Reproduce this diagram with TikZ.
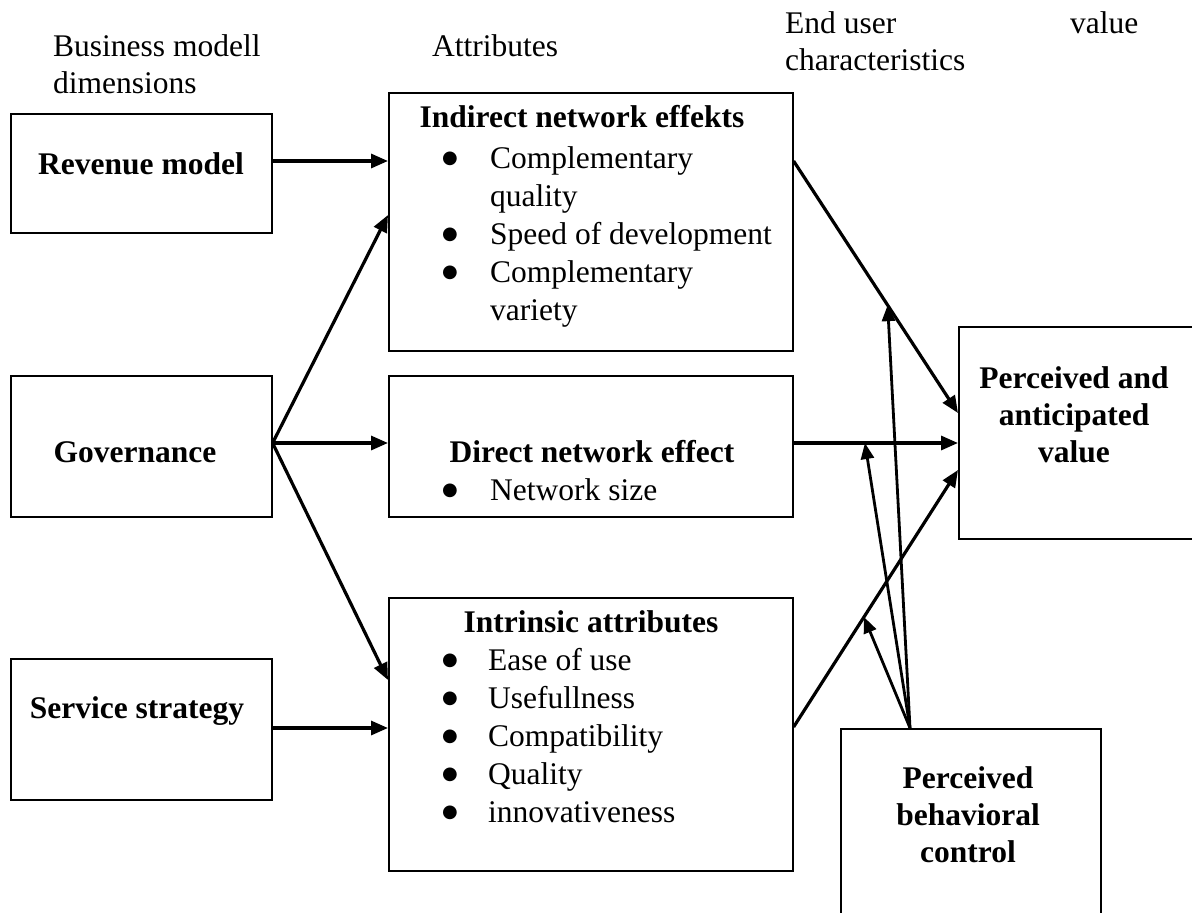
\documentclass[tikz,border=0pt]{standalone}
\usepackage{fontspec}
\setmainfont{Liberation Serif}
\newfontfamily\symfont{DejaVu Sans}
\usetikzlibrary{arrows.meta,calc}
\newcommand{\bigbul}{\raisebox{4.5pt}{\symfont\fontsize{18}{18}\selectfont ●}}
\begin{document}
\begin{tikzpicture}[x=1pt,y=-1pt,
  box/.style={draw,line width=1.6pt,anchor=north west,inner sep=0pt},
  lbl/.style={anchor=base west,inner sep=0pt,font=\fontsize{31.5}{37}\selectfont},
  ttl/.style={anchor=base,inner sep=0pt,font=\fontsize{31.5}{37}\selectfont\bfseries},
  lst/.style={anchor=base west,inner sep=0pt,font=\fontsize{31.5}{38}\selectfont},
  arr/.style={line width=3.2pt,-{Triangle[length=17pt,width=14pt]}},
  arrb/.style={line width=2.8pt,-{Triangle[length=16pt,width=13pt]}}]
\useasboundingbox (0,0) rectangle (1192,913);
\fill[white] (0,0) rectangle (1192,913);

% headers
\node[lbl] (h1) at (53,56) {Business modell};
\node[lbl] (h1b) at (53,93) {dimensions};
\node[lbl] (h2) at (432,56) {Attributes};
\node[lbl] (h3) at (785,33) {End user};
\node[lbl] (h3b) at (785,70) {characteristics};
\node[lbl] (h4) at (1070,33) {value};

% boxes
\node[box,minimum width=261pt,minimum height=119pt] (rev) at (10,113) {};
\node[box,minimum width=261pt,minimum height=141pt] (gov) at (10,375) {};
\node[box,minimum width=261pt,minimum height=141pt] (ser) at (10,658) {};
\node[box,minimum width=404pt,minimum height=258pt] (ind) at (388,92) {};
\node[box,minimum width=404pt,minimum height=141pt] (dir) at (388,375) {};
\node[box,minimum width=404pt,minimum height=273pt] (int) at (388,597) {};
\node[box,minimum width=320pt,minimum height=212pt] (pav) at (958,326) {};
\node[box,minimum width=260pt,minimum height=260pt] (pbc) at (840,728) {};

% box texts
\node[ttl] (trev) at (141,174) {Revenue model};
\node[ttl] (tgov) at (135,462) {Governance};
\node[ttl] (tser) at (137,718) {Service strategy};
\node[ttl] (tind) at (582,127) {Indirect network effekts};
\node[ttl] (tdir) at (592,462) {Direct network effect};
\node[ttl] (tint) at (591,632) {Intrinsic attributes};
\node[ttl] (tpav) at (1074,388) {\begin{tabular}[t]{@{}c@{}}Perceived and\\ anticipated\\ value\end{tabular}};
\node[ttl] (tpbc) at (968,788) {\begin{tabular}[t]{@{}c@{}}Perceived\\ behavioral\\ control\end{tabular}};

\node[lst] (lind) at (442,168) {\begin{tabular}[t]{@{}p{48pt}@{}l@{}}
\bigbul & Complementary\\ & quality\\ \bigbul & Speed of development\\ \bigbul & Complementary\\ & variety\end{tabular}};
\node[lst] (ldir) at (442,500) {\begin{tabular}[t]{@{}p{48pt}@{}l@{}}
\bigbul & Network size\end{tabular}};
\node[lst] (lint) at (442,670) {\begin{tabular}[t]{@{}p{46pt}@{}l@{}}
\bigbul & Ease of use\\ \bigbul & Usefullness\\ \bigbul & Compatibility\\ \bigbul & Quality\\ \bigbul & innovativeness\end{tabular}};

% connection points
\coordinate (revo) at (rev.east |- 0,161);
\coordinate (govo) at (gov.east |- 0,443);
\coordinate (sero) at (ser.east |- 0,728);
\coordinate (indo) at (ind.east |- 0,161);
\coordinate (diro) at (dir.east |- 0,443);
\coordinate (into) at (int.east |- 0,727);
\coordinate (pbco) at (pbc.north west -| 910,0);

% business model -> attributes
\draw[arr] (revo) -- (ind.west |- revo);
\draw[arr] (govo) -- (ind.west |- 0,215);
\draw[arr] (govo) -- (dir.west |- govo);
\draw[arr] (govo) -- (int.west |- 0,680);
\draw[arr] (sero) -- (int.west |- sero);

% attributes -> value
\draw[arr] (indo) -- (pav.west |- 0,413) coordinate[pos=0.572] (m1);
\draw[arr] (diro) -- (pav.west |- diro) coordinate[pos=0.434] (m2);
\draw[arr] (into) -- (pav.west |- 0,470) coordinate[pos=0.428] (m3);

% perceived behavioral control -> connectors
\draw[arrb] (pbco) -- (m1);
\draw[arrb] (pbco) -- (m2);
\draw[arrb] (pbco) -- (m3);
\end{tikzpicture}
\end{document}
